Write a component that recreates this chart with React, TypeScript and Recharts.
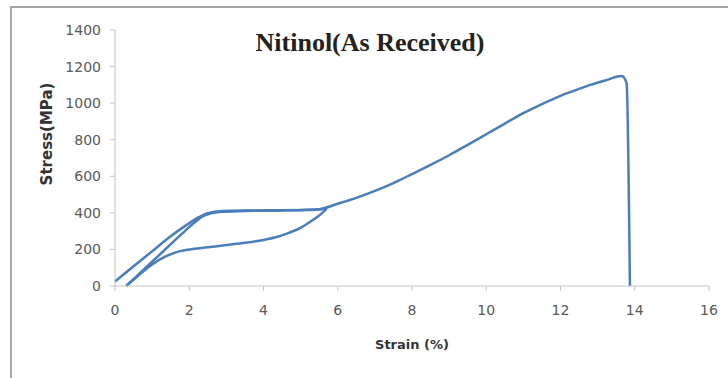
import React from 'react';
import { LineChart, Line, XAxis, YAxis, Label } from 'recharts';

// strain (%) / stress (MPa) pairs, in test order
const loadingStrain = [0, 0.5, 1.0, 1.5, 1.9, 2.2, 2.5, 2.9, 3.5, 4.5, 5.2, 5.7];
const loadingStress = [25, 108, 190, 272, 330, 370, 398, 410, 413, 414, 415, 422];

const unloadingStrain = [5.7, 5.5, 5.25, 5.0, 4.7, 4.4, 4.0, 3.5, 3.0, 2.5, 2.0, 1.7, 1.35, 1.0, 0.6, 0.3];
const unloadingStress = [422, 386, 350, 318, 292, 271, 252, 236, 224, 212, 200, 188, 160, 118, 52, 0];

const reloadStrain = [0.3, 0.8, 1.3, 1.8, 2.1, 2.4, 2.8, 3.5, 4.5, 5.5, 6.0, 6.5, 7.0, 7.5, 8.0, 8.5, 9.0, 9.5, 10.0, 10.5, 11.0, 11.5, 12.0, 12.5, 12.8, 13.25, 13.65, 13.78, 13.87];
const reloadStress = [0, 95, 190, 285, 340, 385, 405, 410, 413, 420, 450, 482, 520, 563, 612, 662, 715, 772, 830, 888, 945, 995, 1040, 1078, 1100, 1127, 1148, 1110, 0];

const strainTicks = [0, 2, 4, 6, 8, 10, 12, 14, 16];
const stressTicks = [0, 200, 400, 600, 800, 1000, 1200, 1400];

const toRows = (xs: number[], ys: number[]) => xs.map((strain, i) => ({ strain, stress: ys[i] }));

const loading = toRows(loadingStrain, loadingStress);
const unloading = toRows(unloadingStrain, unloadingStress);
const reload = toRows(reloadStrain, reloadStress);

const lineColor = '#4a7ebb';
const axisColor = '#c4c4c4';
const tickFont = { fill: '#595959', fontSize: 14, fontFamily: 'DejaVu Sans' };
const titleFont = { fill: '#333', fontWeight: 'bold', fontFamily: 'DejaVu Sans' };

const App: React.FC = () => {
  return (
    <div style={{ position: 'absolute', left: 0, top: 0, width: 728, height: 378, background: '#fff', overflow: 'hidden' }}>
      {/* chart frame */}
      <div style={{ position: 'absolute', left: 10, top: 6, width: 740, height: 400, borderTop: '2px solid #a6a6a6', borderLeft: '2px solid #a6a6a6' }} />
      <div
        style={{
          position: 'absolute', left: 0, width: 740, top: 28, textAlign: 'center',
          fontFamily: '"Liberation Serif"', fontWeight: 'bold', fontSize: 26, color: '#222', lineHeight: '30px',
        }}
      >
        Nitinol(As Received)
      </div>
      <LineChart width={728} height={378} margin={{ top: 30, right: 19, bottom: 32, left: 0 }}>
        <XAxis
          type="number"
          dataKey="strain"
          domain={[0, 16]}
          ticks={strainTicks}
          allowDuplicatedCategory={false}
          height={60}
          stroke={axisColor}
          tickSize={5}
          tickMargin={14}
          tick={tickFont}
        >
          <Label
            content={() => (
              <text x={412} y={344} textAnchor="middle" dominantBaseline="central" fontSize={13} {...titleFont}>
                Strain (%)
              </text>
            )}
          />
        </XAxis>
        <YAxis
          type="number"
          dataKey="stress"
          domain={[0, 1400]}
          ticks={stressTicks}
          width={115}
          stroke={axisColor}
          tickSize={5}
          tickMargin={9}
          tick={tickFont}
        >
          <Label
            content={() => (
              <text x={47} y={134} transform="rotate(-90 47 134)" textAnchor="middle" dominantBaseline="central" fontSize={15} {...titleFont}>
                Stress(MPa)
              </text>
            )}
          />
        </YAxis>
        <Line data={loading} dataKey="stress" type="monotone" stroke={lineColor} strokeWidth={2.5} dot={false} isAnimationActive={false} />
        <Line data={unloading} dataKey="stress" type="monotone" stroke={lineColor} strokeWidth={2.5} dot={false} isAnimationActive={false} />
        <Line data={reload} dataKey="stress" type="monotone" stroke={lineColor} strokeWidth={2.5} dot={false} isAnimationActive={false} />
      </LineChart>
    </div>
  );
};

export default App;
